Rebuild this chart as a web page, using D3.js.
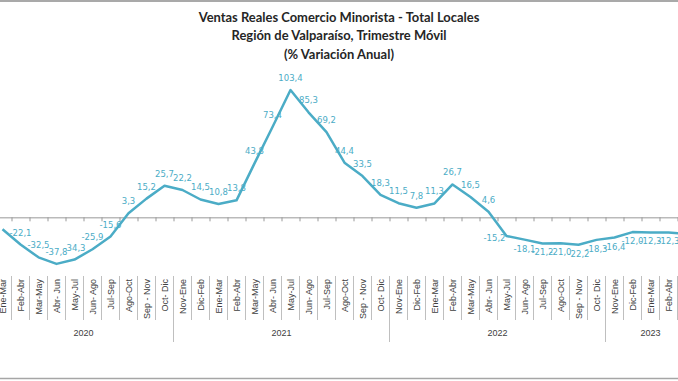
<!DOCTYPE html>
<html><head><meta charset="utf-8">
<script src="https://cdn.jsdelivr.net/npm/d3@7"></script>
<style>html,body{margin:0;padding:0;background:#fff;overflow:hidden}</style>
</head><body>
<svg id="c" width="678" height="381"></svg>
<script>
const titleLines = ["Ventas Reales Comercio Minorista - Total Locales","Región de Valparaíso, Trimestre Móvil","(% Variación Anual)"];
const categories = [
 "Ene-Mar","Feb-Abr","Mar-May","Abr- Jun","May-Jul","Jun- Ago","Jul-Sep","Ago-Oct","Sep - Nov","Oct- Dic",
 "Nov-Ene","Dic-Feb","Ene-Mar","Feb-Abr","Mar-May","Abr- Jun","May-Jul","Jun- Ago","Jul-Sep","Ago-Oct","Sep - Nov","Oct- Dic",
 "Nov-Ene","Dic-Feb","Ene-Mar","Feb-Abr","Mar-May","Abr- Jun","May-Jul","Jun- Ago","Jul-Sep","Ago-Oct","Sep - Nov","Oct- Dic",
 "Nov-Ene","Dic-Feb","Ene-Mar","Feb-Abr","Mar-May"];
const values = [
 -9.7,-22.1,-32.5,-37.8,-34.3,-25.9,-15.6,3.3,15.2,25.7,
 22.2,14.5,10.8,13.8,43.8,73.4,103.4,85.3,69.2,44.4,33.5,18.3,
 11.5,7.8,11.3,26.7,16.5,4.6,-15.2,-18.1,-21.2,-21.0,-22.2,-18.3,
 -16.4,-12.0,-12.3,-12.3,-13.5];
const years = ["2020","2021","2022","2023"];
const yearCounts = [10,12,12,5];

const svg = d3.select("#c");
const W = 678, H = 381;
const catW = 18, x0 = -6.5;
const n = categories.length;

const x = d3.scaleBand().domain(d3.range(n)).range([x0, x0 + n*catW]).paddingInner(0).paddingOuter(0);
const xb = d3.scaleLinear().domain([0, n]).range([x0, x0 + n*catW]);
const y = d3.scaleLinear().domain([-50, 110]).range([278.9, 81.9]);
const cx = i => x(i) + x.bandwidth()/2;

// borders
svg.append("line").attr("x1",0).attr("x2",W).attr("y1",1).attr("y2",1).attr("stroke","#8c8c8c").attr("stroke-width",1.5);
svg.append("line").attr("x1",0).attr("x2",W).attr("y1",378.5).attr("y2",378.5).attr("stroke","#a6a6a6").attr("stroke-width",1.5);

// title
const tg = svg.append("g");
const tBase = [21.5, 40, 58.5];
const tts = tg.selectAll("text").data(titleLines).join("text")
  .attr("x", 339).attr("y",(d,i)=>tBase[i]).attr("text-anchor","middle")
  .attr("font-family","Lato, 'Open Sans', sans-serif").attr("font-weight","bold")
  .attr("font-size",13).attr("fill","#262626").text(d=>d);
const w0 = tts.nodes()[0].getComputedTextLength();
tts.attr("font-size", 13*281/w0);

// zero axis with ticks at category boundaries
const axis = d3.axisBottom(xb).tickValues(d3.range(n+1)).tickSize(4).tickFormat("");
const ag = svg.append("g").attr("transform",`translate(0,${y(0)})`).call(axis);
ag.select(".domain").attr("stroke","#999").attr("stroke-width",1);
ag.selectAll(".tick line").attr("stroke","#999");

// category separators and labels
const labTop = 276, labBot = 320, yearBot = 342;
const yearStarts = [0];
yearCounts.forEach((c,i)=>yearStarts.push(yearStarts[i]+c));
svg.append("g").selectAll("line").data(d3.range(n+1).filter(i=>!yearStarts.includes(i))).join("line")
  .attr("x1",i=>xb(i)).attr("x2",i=>xb(i)).attr("y1",labTop).attr("y2",labBot)
  .attr("stroke","#bfbfbf").attr("stroke-width",1);
svg.append("g").selectAll("line").data(yearStarts).join("line")
  .attr("x1",i=>xb(i)).attr("x2",i=>xb(i)).attr("y1",labTop).attr("y2",yearBot)
  .attr("stroke","#bfbfbf").attr("stroke-width",1);

svg.append("g").selectAll("text").data(categories).join("text")
  .attr("transform",(d,i)=>`translate(${cx(i)},279) rotate(-90)`)
  .attr("text-anchor","end").attr("dy","0.35em")
  .attr("font-family","'Liberation Sans', Arial, sans-serif").attr("font-size",9)
  .attr("fill","#404040").text(d=>d);

svg.append("g").selectAll("text").data(years).join("text")
  .attr("x",(d,i)=>(xb(yearStarts[i])+xb(yearStarts[i+1]))/2).attr("y",336)
  .attr("text-anchor","middle")
  .attr("font-family","'Liberation Sans', Arial, sans-serif").attr("font-size",9)
  .attr("fill","#404040").text(d=>d);

// line
const line = d3.line().x((d,i)=>cx(i)).y(d=>y(d));
svg.append("path").datum(values).attr("d",line).attr("fill","none")
  .attr("stroke","#4BACC6").attr("stroke-width",2.5).attr("stroke-linejoin","round");

// data labels
const fmt = v => v.toFixed(1).replace(".", ",");
const place = i => (i === 0 || i === 28) ? "left" : (i >= 29 ? "below" : "above");
svg.append("g").selectAll("text").data(values).join("text")
  .attr("x",(d,i)=> place(i)==="left" ? cx(i)-(i===0?4:1) : cx(i))
  .attr("y",(d,i)=> place(i)==="above" ? y(d)-9 : place(i)==="below" ? y(d)+12 : y(d)+4.5)
  .attr("text-anchor",(d,i)=> place(i)==="left" ? "end" : "middle")
  .attr("font-family","'DejaVu Sans', Verdana, sans-serif").attr("font-size",8.5)
  .attr("fill","#4BACC6").text(d=>fmt(d));
</script>
</body></html>
